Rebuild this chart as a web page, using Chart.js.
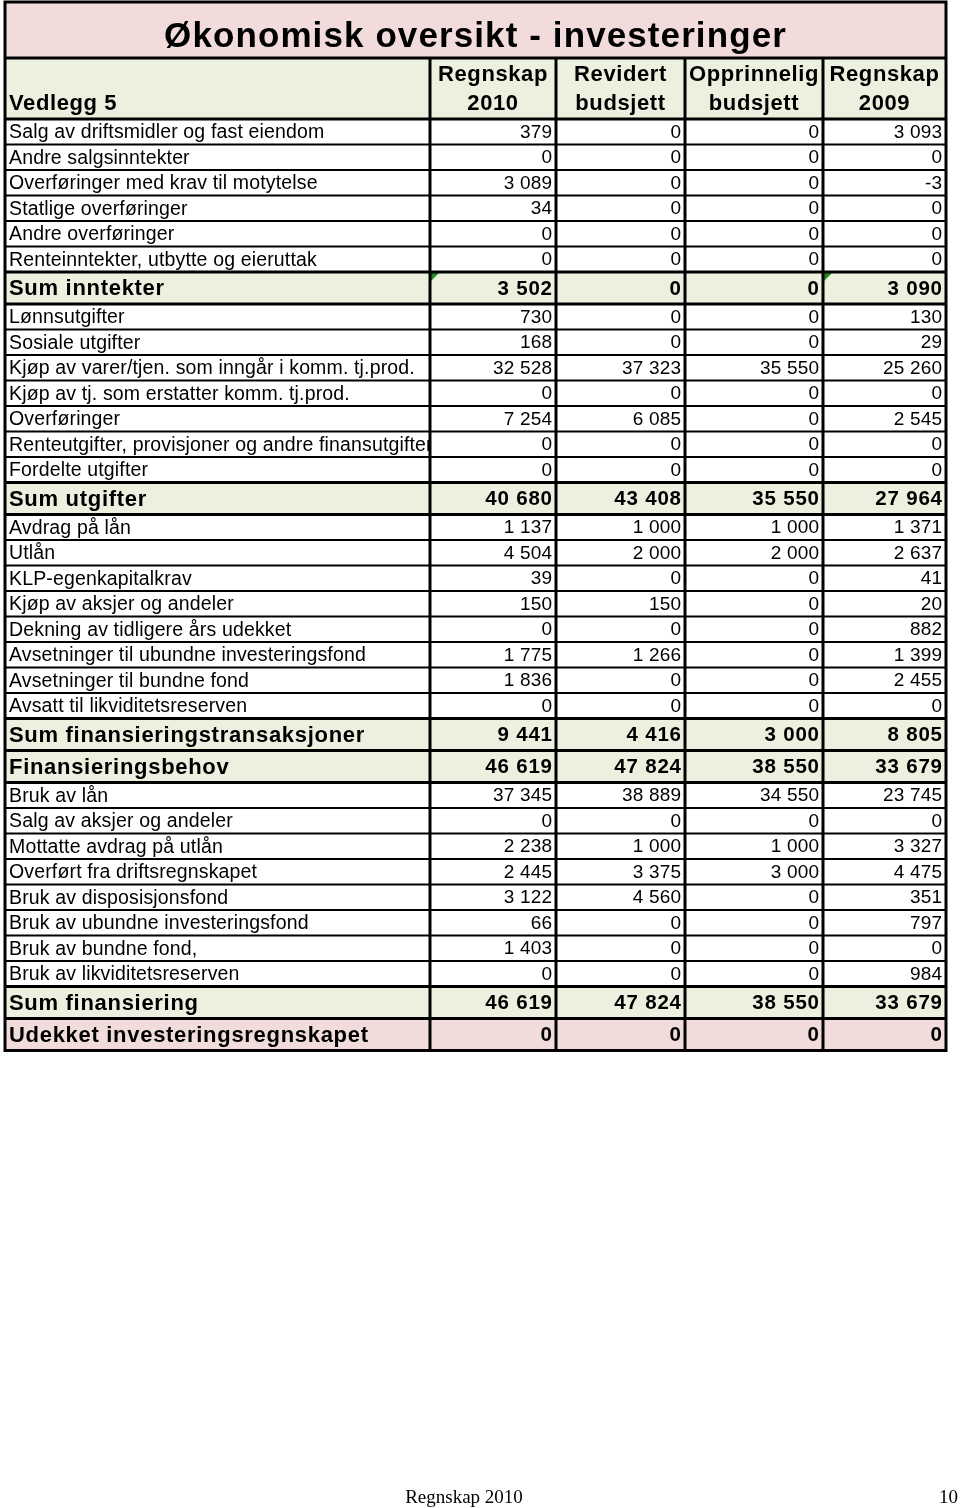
<!DOCTYPE html>
<html>
<head>
<meta charset="utf-8">
<script src="https://cdn.jsdelivr.net/npm/chart.js@4.4.0/dist/chart.umd.min.js"></script>
<style>
    html, body { margin: 0; padding: 0; background: #ffffff; }
    #tableChart { display: block; }
</style>
</head>
<body>
<canvas id="tableChart" width="960" height="1508"></canvas>
<script>
/* =========================================================
   DATA
========================================================= */
const titleText = 'Økonomisk oversikt - investeringer';
const cornerLabel = 'Vedlegg 5';
const headerTop = ['Regnskap', 'Revidert', 'Opprinnelig', 'Regnskap'];
const headerBottom = ['2010', 'budsjett', 'budsjett', '2009'];

const rowLabels = [
    'Salg av driftsmidler og fast eiendom',
    'Andre salgsinntekter',
    'Overføringer med krav til motytelse',
    'Statlige overføringer',
    'Andre overføringer',
    'Renteinntekter, utbytte og eieruttak',
    'Sum inntekter',
    'Lønnsutgifter',
    'Sosiale utgifter',
    'Kjøp av varer/tjen. som inngår i komm. tj.prod.',
    'Kjøp av tj. som erstatter komm. tj.prod.',
    'Overføringer',
    'Renteutgifter, provisjoner og andre finansutgifter',
    'Fordelte utgifter',
    'Sum utgifter',
    'Avdrag på lån',
    'Utlån',
    'KLP-egenkapitalkrav',
    'Kjøp av aksjer og andeler',
    'Dekning av tidligere års udekket',
    'Avsetninger til ubundne investeringsfond',
    'Avsetninger til bundne fond',
    'Avsatt til likviditetsreserven',
    'Sum finansieringstransaksjoner',
    'Finansieringsbehov',
    'Bruk av lån',
    'Salg av aksjer og andeler',
    'Mottatte avdrag på utlån',
    'Overført fra driftsregnskapet',
    'Bruk av disposisjonsfond',
    'Bruk av ubundne investeringsfond',
    'Bruk av bundne fond,',
    'Bruk av likviditetsreserven',
    'Sum finansiering',
    'Udekket investeringsregnskapet'
];

const regnskap2010 = [
    379, 0, 3089, 34, 0, 0, 3502,
    730, 168, 32528, 0, 7254, 0, 0, 40680,
    1137, 4504, 39, 150, 0, 1775, 1836, 0, 9441,
    46619,
    37345, 0, 2238, 2445, 3122, 66, 1403, 0, 46619,
    0
];
const revidertBudsjett = [
    0, 0, 0, 0, 0, 0, 0,
    0, 0, 37323, 0, 6085, 0, 0, 43408,
    1000, 2000, 0, 150, 0, 1266, 0, 0, 4416,
    47824,
    38889, 0, 1000, 3375, 4560, 0, 0, 0, 47824,
    0
];
const opprinneligBudsjett = [
    0, 0, 0, 0, 0, 0, 0,
    0, 0, 35550, 0, 0, 0, 0, 35550,
    1000, 2000, 0, 0, 0, 0, 0, 0, 3000,
    38550,
    34550, 0, 1000, 3000, 0, 0, 0, 0, 38550,
    0
];
const regnskap2009 = [
    3093, 0, -3, 0, 0, 0, 3090,
    130, 29, 25260, 0, 2545, 0, 0, 27964,
    1371, 2637, 41, 20, 882, 1399, 2455, 0, 8805,
    33679,
    23745, 0, 3327, 4475, 351, 797, 0, 984, 33679,
    0
];

// rows shown bold with coloured fill
const sumRows = [6, 14, 23, 24, 33, 34];
const alertRows = [34];
const flaggedCells = [[6, 0], [6, 3]];

const footerLeft = 'Regnskap 2010';
const footerRight = '10';

/* =========================================================
   LAYOUT
========================================================= */
const colEdges = [5, 430, 556, 685, 823, 946];
const titleTop = 2;
const headerTopY = 58;
const bodyTop = 119;
const rowHeight = 25.5;
const sumRowHeight = 32;

const pink = '#f2dcdb';
const green = '#ebf1de';
const sans = '"Liberation Sans", Arial, sans-serif';
const serif = '"Liberation Serif", "Times New Roman", serif';

/* =========================================================
   HELPER
========================================================= */
function formatNumber(v) {
    const sign = v < 0 ? '-' : '';
    const s = Math.abs(v).toString();
    return sign + s.replace(/\B(?=(\d{3})+(?!\d))/g, ' ');
}

function buildRowEdges() {
    const edges = [bodyTop];
    rowLabels.forEach((_, i) => {
        const h = sumRows.includes(i) ? sumRowHeight : rowHeight;
        edges.push(edges[i] + h);
    });
    return edges;
}

function setFont(ctx, font, spacing) {
    ctx.font = font;
    ctx.letterSpacing = spacing + 'px';
}

const rowEdges = buildRowEdges();
const seriesColumns = [regnskap2010, revidertBudsjett, opprinneligBudsjett, regnskap2009];

/* =========================================================
   TABLE PLUGIN
========================================================= */
const tablePlugin = {
    id: 'tablePlugin',
    afterDraw(chart) {
        const ctx = chart.ctx;
        const sx = v => chart.scales.x.getPixelForValue(v);
        const sy = v => chart.scales.y.getPixelForValue(v);
        const left = sx(colEdges[0]);
        const right = sx(colEdges[colEdges.length - 1]);
        const bottom = sy(rowEdges[rowEdges.length - 1]);

        ctx.save();

        // backgrounds
        ctx.fillStyle = pink;
        ctx.fillRect(left, sy(titleTop), right - left, sy(headerTopY) - sy(titleTop));
        ctx.fillStyle = green;
        ctx.fillRect(left, sy(headerTopY), right - left, sy(bodyTop) - sy(headerTopY));

        sumRows.forEach(i => {
            ctx.fillStyle = alertRows.includes(i) ? pink : green;
            ctx.fillRect(left, sy(rowEdges[i]), right - left, sy(rowEdges[i + 1]) - sy(rowEdges[i]));
        });

        // title
        ctx.fillStyle = '#000';
        setFont(ctx, 'bold 35px ' + sans, 1.1);
        ctx.textAlign = 'center';
        ctx.textBaseline = 'middle';
        ctx.fillText(titleText, (left + right) / 2, sy(37));

        // header
        setFont(ctx, 'bold 22px ' + sans, 0.6);
        headerTop.forEach((t, c) => {
            const cx = (sx(colEdges[c + 1]) + sx(colEdges[c + 2])) / 2;
            ctx.fillText(t, cx, sy(75));
            ctx.fillText(headerBottom[c], cx, sy(104));
        });
        ctx.textAlign = 'left';
        ctx.fillText(cornerLabel, sx(colEdges[0] + 4), sy(104));

        // body text
        rowLabels.forEach((label, i) => {
            const bold = sumRows.includes(i);
            const cy = (sy(rowEdges[i]) + sy(rowEdges[i + 1])) / 2 + 1;

            ctx.save();
            ctx.beginPath();
            ctx.rect(left, sy(rowEdges[i]), sx(colEdges[1]) - left - 1, sy(rowEdges[i + 1]) - sy(rowEdges[i]));
            ctx.clip();
            ctx.textAlign = 'left';
            if (bold) {
                setFont(ctx, 'bold 22px ' + sans, 0.7);
            } else {
                setFont(ctx, '19.5px ' + sans, 0.15);
            }
            ctx.fillText(label, sx(colEdges[0] + 4), cy);
            ctx.restore();

            const spacing = bold ? 0.8 : 0.2;
            setFont(ctx, (bold ? 'bold 20.5px ' : '19px ') + sans, spacing);
            ctx.textAlign = 'right';
            seriesColumns.forEach((col, c) => {
                ctx.fillText(formatNumber(col[i]), sx(colEdges[c + 2]) - 4 + spacing, cy);
            });
        });

        // excel flag triangles
        ctx.fillStyle = '#1f8a1f';
        flaggedCells.forEach(([r, c]) => {
            const x0 = sx(colEdges[c + 1]) + 1;
            const y0 = sy(rowEdges[r]) + 1;
            ctx.beginPath();
            ctx.moveTo(x0, y0);
            ctx.lineTo(x0 + 8, y0);
            ctx.lineTo(x0, y0 + 8);
            ctx.closePath();
            ctx.fill();
        });

        // grid lines
        ctx.strokeStyle = '#000';
        rowEdges.forEach((e, i) => {
            const thick = sumRows.includes(i) || sumRows.includes(i - 1) || i === 0;
            ctx.lineWidth = thick ? 3 : 2;
            ctx.beginPath();
            ctx.moveTo(left, sy(e));
            ctx.lineTo(right, sy(e));
            ctx.stroke();
        });

        ctx.lineWidth = 3;
        ctx.beginPath();
        ctx.moveTo(left, sy(headerTopY));
        ctx.lineTo(right, sy(headerTopY));
        ctx.stroke();

        for (let c = 1; c < colEdges.length - 1; c++) {
            ctx.beginPath();
            ctx.moveTo(sx(colEdges[c]), sy(headerTopY));
            ctx.lineTo(sx(colEdges[c]), bottom);
            ctx.stroke();
        }

        ctx.strokeRect(left, sy(titleTop), right - left, bottom - sy(titleTop));

        // footer
        setFont(ctx, '19px ' + serif, 0);
        ctx.fillStyle = '#000';
        ctx.textAlign = 'center';
        ctx.textBaseline = 'alphabetic';
        ctx.fillText(footerLeft, sx(464), sy(1503));
        ctx.textAlign = 'right';
        ctx.fillText(footerRight, sx(958), sy(1503));

        ctx.restore();
    }
};

/* =========================================================
   CHART INIT
========================================================= */
new Chart(document.getElementById('tableChart'), {
    type: 'scatter',
    data: { datasets: [] },
    options: {
        responsive: false,
        animation: false,
        devicePixelRatio: 1,
        layout: { padding: 0 },
        plugins: {
            legend: { display: false },
            tooltip: { enabled: false }
        },
        scales: {
            x: { type: 'linear', min: 0, max: 960, display: false },
            y: { type: 'linear', min: 0, max: 1508, reverse: true, display: false }
        }
    },
    plugins: [tablePlugin]
});
</script>
</body>
</html>
